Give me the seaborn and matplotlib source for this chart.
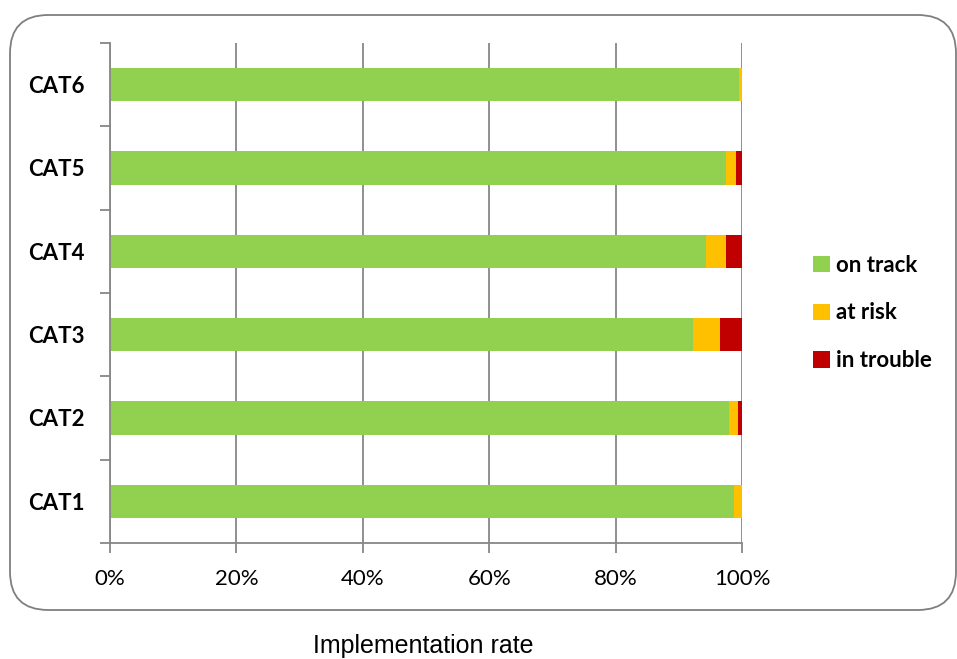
import matplotlib
matplotlib.use("Agg")
import matplotlib.pyplot as plt
from matplotlib.patches import FancyBboxPatch
from matplotlib.ticker import FixedLocator, PercentFormatter
import numpy as np
import pandas as pd
import seaborn as sns

categories = ["CAT6", "CAT5", "CAT4", "CAT3", "CAT2", "CAT1"]
on_track = [99.5, 97.5, 94.3, 92.2, 98.0, 98.7]
at_risk = [0.5, 1.6, 3.2, 4.3, 1.3, 1.3]
in_trouble = [0.0, 0.9, 2.5, 3.5, 0.7, 0.0]
series_names = ["on track", "at risk", "in trouble"]
series_colors = ["#92D050", "#FFC000", "#C00000"]
x_ticks = [0, 20, 40, 60, 80, 100]

sns.set_theme(style="white")
plt.rcParams["font.family"] = ["Lato", "DejaVu Sans"]
plt.rcParams["text.color"] = "black"

W, H = 957, 659
fig = plt.figure(figsize=(W / 100, H / 100), dpi=100)

# rounded frame around the plot area
frame = FancyBboxPatch((10 / W, 1 - 610 / H), (956 - 10) / W, (610 - 15) / H,
                       boxstyle="round,pad=0,rounding_size=0.04",
                       transform=fig.transFigure, facecolor="white",
                       edgecolor="#7F7F7F", linewidth=1.3,
                       mutation_aspect=W / H, zorder=-5)
fig.patches.append(frame)

ax = fig.add_axes([110 / W, 1 - 543 / H, (742 - 110) / W, (543 - 43) / H])
ax.set_zorder(2)
ax.set_facecolor("none")

df = pd.DataFrame({"cat": categories, "on": on_track,
                   "risk": at_risk, "trouble": in_trouble})
df["c1"] = df["on"]
df["c2"] = df["on"] + df["risk"]
df["c3"] = df["on"] + df["risk"] + df["trouble"]

# stacked bars: draw cumulative totals back to front
for col, color, name in [("c3", series_colors[2], series_names[2]),
                         ("c2", series_colors[1], series_names[1]),
                         ("c1", series_colors[0], series_names[0])]:
    sns.barplot(data=df, x=col, y="cat", order=categories, orient="h",
                color=color, width=0.4, saturation=1, ax=ax, label=name,
                edgecolor="none", linewidth=0, legend=False)
if ax.get_legend() is not None:
    ax.get_legend().remove()

ax.set_xlim(0, 100)
ax.set_ylim(5.5, -0.5)
ax.xaxis.set_major_locator(FixedLocator(x_ticks))
ax.xaxis.set_major_formatter(PercentFormatter(decimals=0))
ax.grid(axis="x", color="#878787", linewidth=1.3)
ax.grid(axis="y", visible=False)
ax.set_axisbelow(True)

for s in ["top", "right"]:
    ax.spines[s].set_visible(False)
for s in ["left", "bottom"]:
    ax.spines[s].set_color("#878787")
    ax.spines[s].set_linewidth(1.3)

ax.tick_params(axis="x", which="major", bottom=True, direction="out",
               length=7, width=1.3, color="#878787", labelsize=16, pad=11.5,
               labelcolor="black")
ax.tick_params(axis="y", which="major", left=False, length=0, pad=18,
               labelcolor="black")
ax.yaxis.set_minor_locator(FixedLocator(np.arange(-0.5, 6, 1.0)))
ax.tick_params(axis="y", which="minor", left=True, direction="out", length=7,
               width=1.3, color="#878787")
for lbl in ax.get_yticklabels():
    lbl.set_fontweight("bold")
    lbl.set_fontsize(16)

ax.set_xlabel("")
ax.set_ylabel("")

handles = [plt.Rectangle((0, 0), 1, 1, facecolor=c, edgecolor="none")
           for c in series_colors]
leg = fig.legend(handles, series_names,
                 loc="center left", bbox_to_anchor=(793 / W, 1 - 313 / H),
                 frameon=False, handlelength=0.75, handleheight=0.75,
                 handletextpad=0.3, labelspacing=1.2,
                 prop={"weight": "bold", "size": 16})
for t in leg.get_texts():
    t.set_color("black")

fig.text(423 / W, 1 - 646 / H, "Implementation rate", ha="center", va="center",
         fontsize=18, color="black", family=["Liberation Sans", "DejaVu Sans"])

fig.savefig("out.png", dpi=100)
